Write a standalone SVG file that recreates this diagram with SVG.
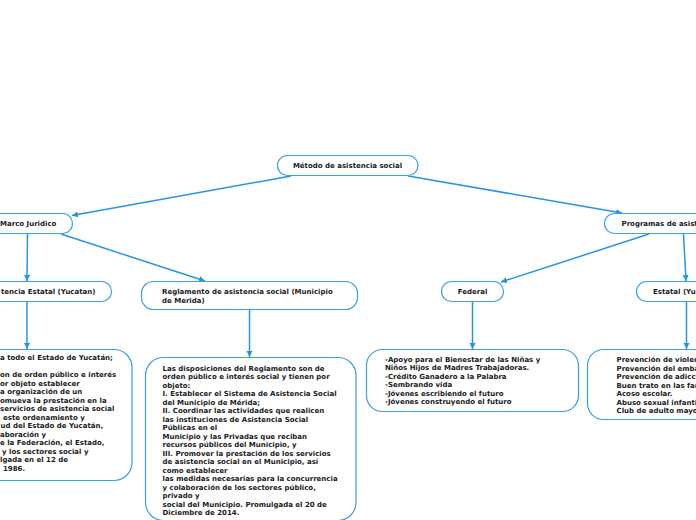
<svg xmlns="http://www.w3.org/2000/svg" width="696" height="520" viewBox="0 0 696 520">
<defs>
<style>
.node{fill:#ffffff;stroke:#3a9fe4;stroke-width:1.2}
.t{font-family:"DejaVu Sans","Verdana",sans-serif;font-weight:bold;font-size:7px;fill:#1a1a1a}
.c{text-anchor:middle}
.e{text-anchor:end}
.edge{stroke:#2596dc;stroke-width:1.5;fill:none;marker-end:url(#arr)}
</style>
<marker id="arr" markerUnits="userSpaceOnUse" markerWidth="7" markerHeight="7" refX="6" refY="3" orient="auto">
<path d="M0,0 L6,3 L0,6 z" fill="#2596dc"/>
</marker>
</defs>
<rect width="696" height="520" fill="#ffffff"/>
<g id="connectors">
<line class="edge" x1="291" y1="176" x2="72" y2="215.5"/>
<line class="edge" x1="408" y1="176" x2="622" y2="213"/>
<line class="edge" x1="27.5" y1="234" x2="27" y2="281"/>
<line class="edge" x1="61" y1="234" x2="205" y2="281"/>
<line class="edge" x1="27" y1="302" x2="27" y2="349"/>
<line class="edge" x1="249.5" y1="310" x2="249.5" y2="357"/>
<line class="edge" x1="649" y1="234" x2="501" y2="282"/>
<line class="edge" x1="683.5" y1="234" x2="686" y2="281"/>
<line class="edge" x1="472.5" y1="302" x2="472.5" y2="349"/>
<line class="edge" x1="686.5" y1="302" x2="686.5" y2="349"/>
</g>
<g id="n-root">
<rect class="node" x="277.5" y="155.5" width="140.5" height="20" rx="10"/>
<text class="t c" x="347.5" y="168">Método de asistencia social</text>
</g>
<g id="n-marco">
<rect class="node" x="-20" y="213.5" width="92.5" height="20" rx="10"/>
<text class="t" x="0" y="226">Marco Juridico</text>
</g>
<g id="n-ley">
<rect class="node" x="-40" y="281.5" width="151.5" height="20" rx="10"/>
<text class="t e" x="95.5" y="294">tencia Estatal (Yucatan)</text>
</g>
<g id="n-ley-text">
<rect class="node" x="-60" y="349.5" width="192" height="131" rx="18"/>
<text class="t" y="360">
<tspan x="0" y="360">a todo el Estado de Yucatán;</tspan>
<tspan x="0" y="377">on de orden público e interés</tspan>
<tspan x="0" y="385.5">or objeto establecer</tspan>
<tspan x="0" y="394">a organización de un</tspan>
<tspan x="0" y="402.5">omueva la prestación en la</tspan>
<tspan x="0" y="411">servicios de asistencia social</tspan>
<tspan x="3" y="419.5">este ordenamiento y</tspan>
<tspan x="0.5" y="428">ud del Estado de Yucatán,</tspan>
<tspan x="0" y="436.5">aboración y</tspan>
<tspan x="0" y="445">e la Federación, el Estado,</tspan>
<tspan x="2" y="453.5">y los sectores social y</tspan>
<tspan x="0" y="462">lgada en el 12 de</tspan>
<tspan x="3" y="470.5">1986.</tspan>
</text>
</g>
<g id="n-reglamento">
<rect class="node" x="141.5" y="281.5" width="216" height="28" rx="12"/>
<text class="t">
<tspan x="162" y="294">Reglamento de asistencia social (Municipio</tspan>
<tspan x="162" y="303">de Merida)</tspan>
</text>
</g>
<g id="n-reglamento-text">
<rect class="node" x="145.5" y="357.5" width="210.5" height="163" rx="18"/>
<text class="t">
<tspan x="162.5" y="370.5">Las disposiciones del Reglamento son de</tspan>
<tspan x="162.5" y="379">orden público e interés social y tienen por</tspan>
<tspan x="162.5" y="387.5">objeto:</tspan>
<tspan x="162.5" y="396">I. Establecer el Sistema de Asistencia Social</tspan>
<tspan x="162.5" y="404.5">del Municipio de Mérida;</tspan>
<tspan x="162.5" y="413">II. Coordinar las actividades que realicen</tspan>
<tspan x="162.5" y="421.5">las instituciones de Asistencia Social</tspan>
<tspan x="162.5" y="430">Públicas en el</tspan>
<tspan x="162.5" y="438.5">Municipio y las Privadas que reciban</tspan>
<tspan x="162.5" y="447">recursos públicos del Municipio, y</tspan>
<tspan x="162.5" y="455.5">III. Promover la prestación de los servicios</tspan>
<tspan x="162.5" y="464">de asistencia social en el Municipio, así</tspan>
<tspan x="162.5" y="472.5">como establecer</tspan>
<tspan x="162.5" y="481">las medidas necesarias para la concurrencia</tspan>
<tspan x="162.5" y="489.5">y colaboración de los sectores público,</tspan>
<tspan x="162.5" y="498">privado y</tspan>
<tspan x="162.5" y="506.5">social del Municipio. Promulgada el 20 de</tspan>
<tspan x="162.5" y="515">Diciembre de 2014.</tspan>
</text>
</g>
<g id="n-programas">
<rect class="node" x="604.5" y="213.5" width="120" height="20" rx="10"/>
<text class="t" x="621.5" y="226">Programas de asist</text>
</g>
<g id="n-federal">
<rect class="node" x="441.5" y="281.5" width="62" height="20" rx="10"/>
<text class="t c" x="472.5" y="294">Federal</text>
</g>
<g id="n-estatal">
<rect class="node" x="636.5" y="281.5" width="80" height="20" rx="10"/>
<text class="t" x="653" y="294">Estatal (Yu</text>
</g>
<g id="n-federal-text">
<rect class="node" x="366.5" y="349.5" width="212" height="62" rx="16"/>
<text class="t">
<tspan x="385" y="361.5">-Apoyo para el Bienestar de las Niñas y</tspan>
<tspan x="385" y="370">Niños Hijos de Madres Trabajadoras.</tspan>
<tspan x="385" y="378.5">-Crédito Ganadero a la Palabra</tspan>
<tspan x="385" y="387">-Sembrando vida</tspan>
<tspan x="385" y="395.5">-Jóvenes escribiendo el futuro</tspan>
<tspan x="385" y="404">-Jóvenes construyendo el futuro</tspan>
</text>
</g>
<g id="n-estatal-text">
<rect class="node" x="587.5" y="349.5" width="140" height="70" rx="16"/>
<text class="t">
<tspan x="616.5" y="362">Prevención de violen</tspan>
<tspan x="616.5" y="370.5">Prevención del emba</tspan>
<tspan x="616.5" y="379">Prevención de adicci</tspan>
<tspan x="616.5" y="387.5">Buen trato en las far</tspan>
<tspan x="616.5" y="396">Acoso escolar.</tspan>
<tspan x="616.5" y="404.5">Abuso sexual infanti</tspan>
<tspan x="616.5" y="413">Club de adulto mayo</tspan>
</text>
</g>
</svg>
